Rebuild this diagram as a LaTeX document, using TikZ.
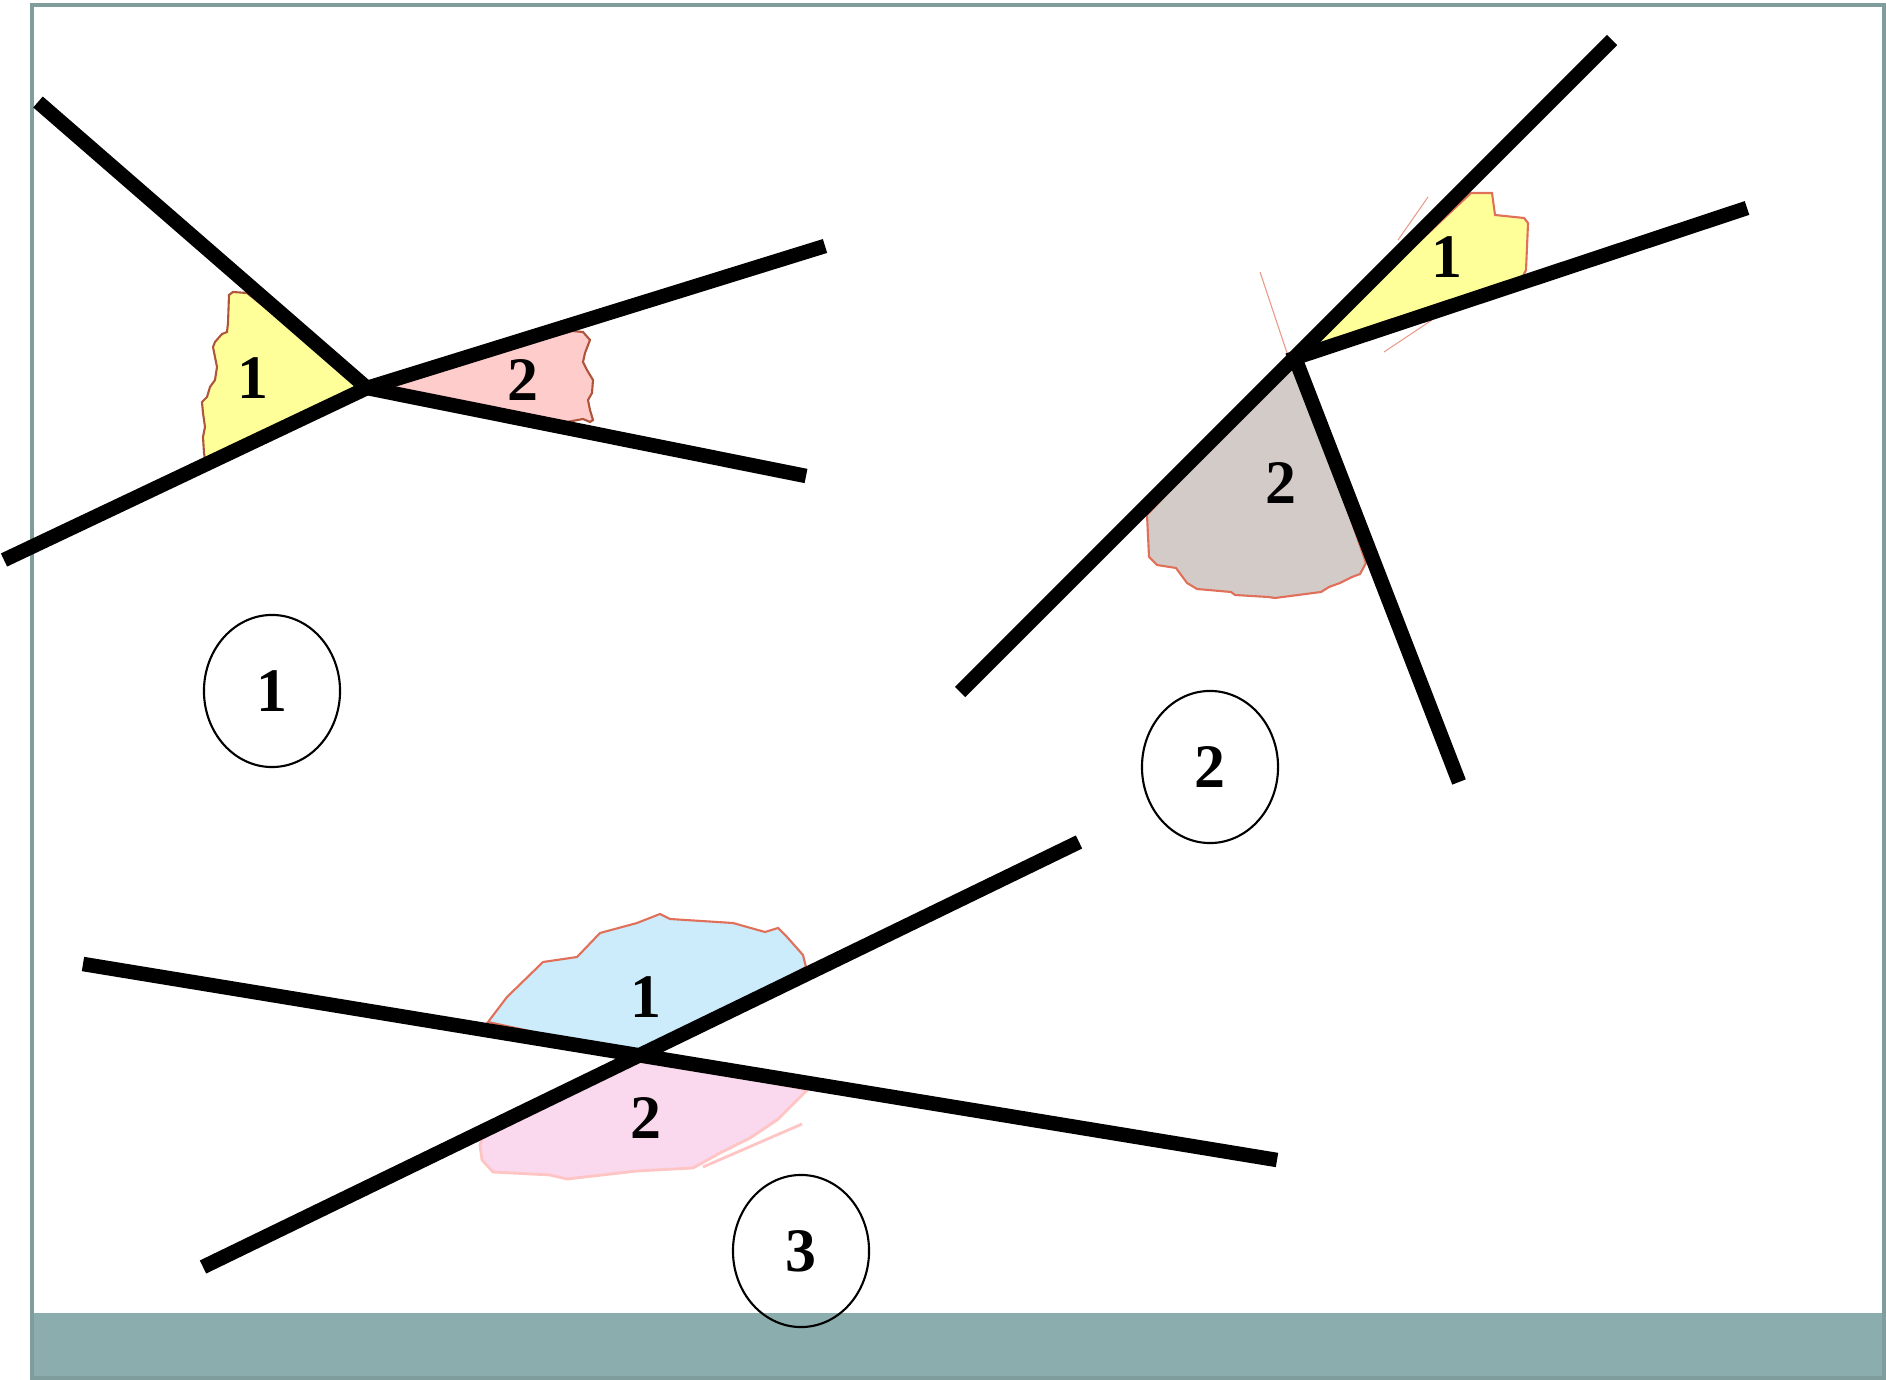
\documentclass[tikz,border=0pt]{standalone}
\usepackage{fontspec}
\setmainfont{Liberation Serif}
\usetikzlibrary{shapes.geometric}
\definecolor{framec}{HTML}{7F9D9D}
\definecolor{bandc}{HTML}{8CADAD}
\definecolor{yel}{HTML}{FFFF99}
\definecolor{pinkA}{HTML}{FFCCCC}
\definecolor{greyB}{HTML}{D3CBC7}
\definecolor{blueC}{HTML}{CCEBFB}
\definecolor{pinkC}{HTML}{FAD8EE}
\definecolor{edgeA}{HTML}{B0553C}
\definecolor{edgeB}{HTML}{E0705A}
\definecolor{edgeC}{HTML}{FFC4C4}
\begin{document}
\begin{tikzpicture}[x=0.01cm,y=-0.01cm,
  ray/.style={line width=0.145cm, line cap=butt, line join=miter},
  regA/.style={draw=edgeA, line width=0.6pt},
  regB/.style={draw=edgeB, line width=0.6pt},
  regC/.style={draw=edgeC, line width=0.8pt},
  stray/.style={draw=edgeB, line width=0.3pt, opacity=0.7},
  lbl/.style={font=\fontsize{17.6}{20}\selectfont\bfseries, inner sep=0pt},
  circ/.style={ellipse, draw, line width=0.6pt, minimum width=1.36cm, minimum height=1.52cm, inner sep=0pt, font=\fontsize{17.6}{20}\selectfont\bfseries}]
\useasboundingbox (0,0) rectangle (1886,1380);
% frame and band
\fill[bandc] (32,1313) rectangle (1884,1378);
\draw[framec, line width=0.04cm] (32,5) rectangle (1884,1378);

% ---------- panel 1 ----------
\coordinate (v1) at (367,388);
\coordinate (a1) at (38,102);
\coordinate (b1) at (4,560);
\coordinate (c1) at (825,246);
\coordinate (d1) at (806,476);
\filldraw[regA, fill=yel] (247,293) -- (233,292) -- (229,295) -- (228,323) -- (227,332) -- (222,334) -- (215,342) -- (213,347) -- (215,357) -- (217,367) -- (215,380) -- (210,387) -- (207,397) -- (202,402) -- (203,413) -- (205,427) -- (203,437) -- (204,453) -- (206,465) -- (v1) -- cycle;
\filldraw[regA, fill=pinkA] (572,331) -- (583,332) -- (590,340) -- (585,353) -- (583,362) -- (587,370) -- (593,380) -- (592,393) -- (588,400) -- (590,410) -- (593,420) -- (590,422) -- (583,419) -- (567,422) -- (v1) -- cycle;
\draw[ray] (a1) -- (v1) -- (d1);
\draw[ray] (b1) -- (v1) -- (c1);
\node[lbl] (t11) at (253,378) {1};
\node[lbl] (t12) at (523,380) {2};
\node[circ] (n1) at (272,691) {1};

% ---------- panel 2 ----------
\coordinate (v2) at (1295,358);
\coordinate (a2) at (1612,40);
\coordinate (b2) at (960,692);
\coordinate (c2) at (1747,208);
\coordinate (d2) at (1459,782);
\draw[stray] (1260,272) -- (1287,353);
\draw[stray] (1398,240) -- (1428,197);
\draw[stray] (1384,352) -- (1432,320);
\filldraw[regB, fill=yel] (1471,193) -- (1492,193) -- (1495,215) -- (1524,218) -- (1528,223) -- (1526,270) -- (1522,278) -- (v2) -- cycle;
\filldraw[regB, fill=greyB] (1147,515) -- (1149,557) -- (1157,565) -- (1176,568) -- (1187,583) -- (1197,589) -- (1231,592) -- (1235,595) -- (1268,597) -- (1275,598) -- (1298,595) -- (1321,592) -- (1329,587) -- (1340,583) -- (1352,577) -- (1360,574) -- (1366,563) -- (v2) -- cycle;
\draw[ray] (b2) -- (a2);
\draw[ray] (c2) -- (v2) -- (d2);
\node[lbl] (t21) at (1447,257) {1};
\node[lbl] (t22) at (1281,483) {2};
\node[circ] (n2) at (1210,767) {2};

% ---------- panel 3 ----------
\coordinate (v3) at (640,1055);
\coordinate (a3) at (83,964);
\coordinate (b3) at (1277,1160);
\coordinate (c3) at (203,1267);
\coordinate (d3) at (1079,842);
\filldraw[regA, draw=edgeB, fill=blueC] (488,1022) -- (507,997) -- (543,962) -- (577,957) -- (600,933) -- (637,923) -- (660,914) -- (670,919) -- (733,923) -- (765,932) -- (778,928) -- (787,937) -- (803,955) -- (806,967) -- (v3) -- cycle;
\filldraw[regC, fill=pinkC] (v3) -- (807,1090) -- (777,1120) -- (750,1138) -- (720,1153) -- (693,1168) -- (637,1171) -- (567,1179) -- (550,1175) -- (493,1172) -- (482,1160) -- (480,1145) -- (483,1135) -- cycle;
\draw[regC] (802,1124) -- (703,1167);
\draw[ray] (a3) -- (b3);
\draw[ray] (c3) -- (d3);
\node[lbl] (t31) at (646,997) {1};
\node[lbl] (t32) at (646,1118) {2};
\node[circ] (n3) at (801,1251) {3};
\end{tikzpicture}
\end{document}
